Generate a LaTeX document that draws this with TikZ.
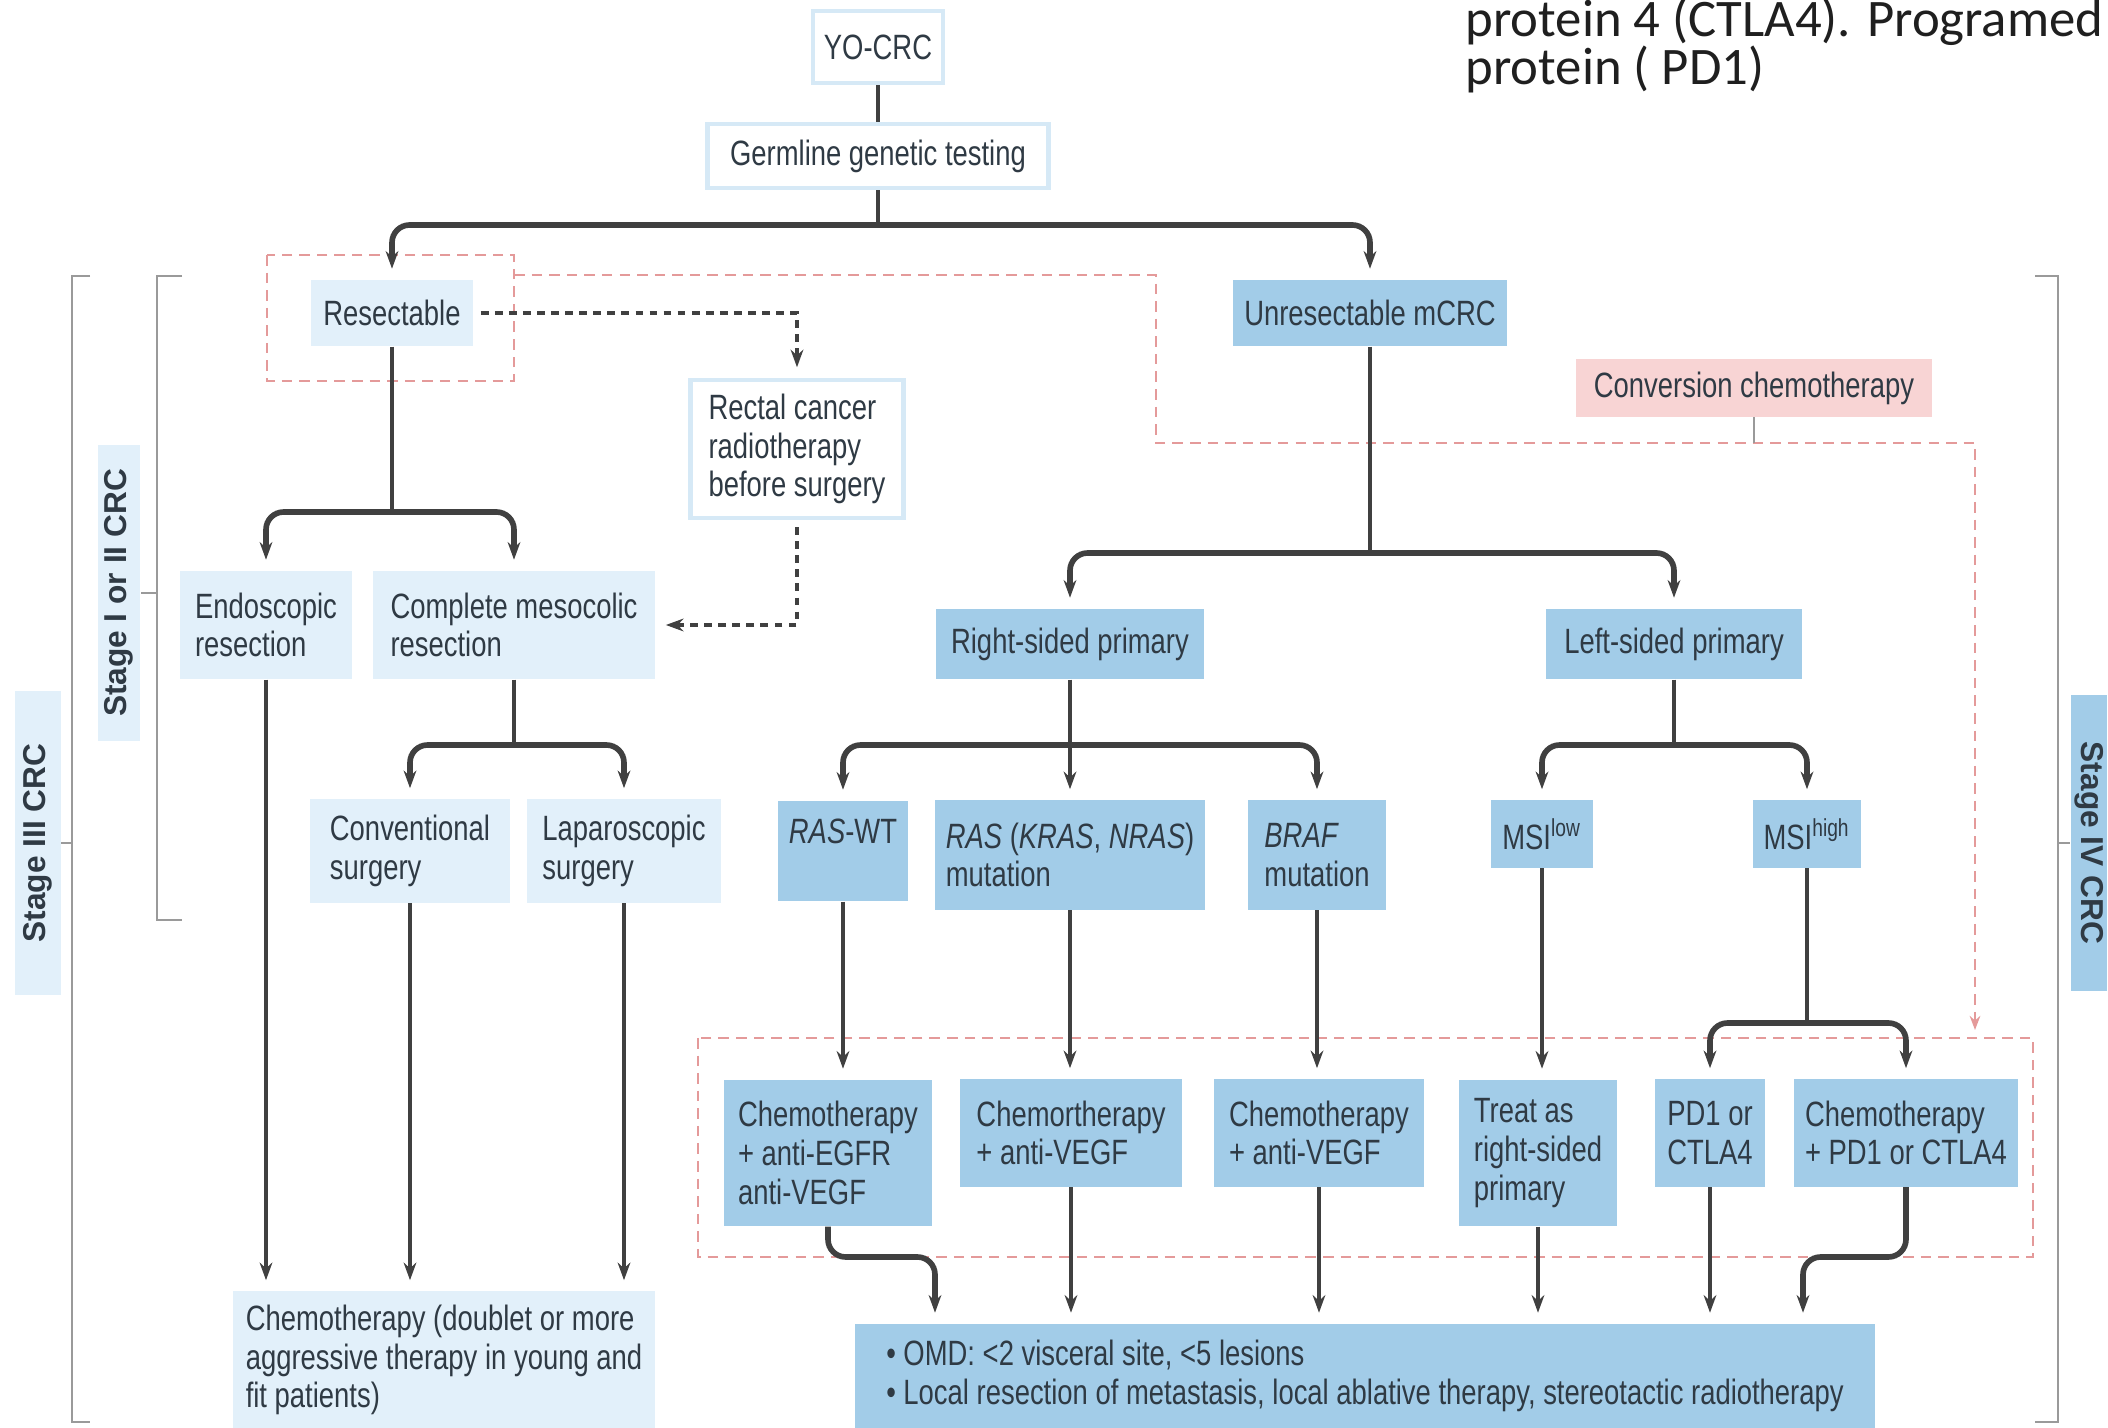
\documentclass[tikz,border=0pt]{standalone}
\usepackage{fontspec}
\setmainfont{Liberation Sans}[FakeStretch=0.78]
\newfontfamily\stagefont{Liberation Sans}
\newfontfamily\notefont{Carlito}
\usetikzlibrary{arrows.meta}

\definecolor{paleblue}{HTML}{E2F0FA}
\definecolor{midblue}{HTML}{A2CCE8}
\definecolor{pinkfill}{HTML}{F8D4D4}
\definecolor{lineblue}{HTML}{D6E9F6}
\definecolor{txt}{HTML}{2F3A44}
\definecolor{linkgray}{HTML}{404040}
\definecolor{redline}{HTML}{E49A9A}
\definecolor{brkgray}{HTML}{9A9A9A}

\begin{document}
\begin{tikzpicture}[x=0.01cm, y=-0.01cm,
    box/.style={font=\fontsize{10}{11}\selectfont, text=txt, align=left, inner xsep=0.11cm, inner ysep=0pt},
    pale/.style={box, fill=paleblue},
    mid/.style={box, fill=midblue},
    outl/.style={box, fill=white, draw=lineblue, line width=1.2pt},
    pinkbox/.style={box, fill=pinkfill},
    stagelbl/.style={font=\stagefont\bfseries\fontsize{9}{10}\selectfont, text=txt, inner sep=0pt, minimum height=0.45cm},
    note/.style={font=\notefont\fontsize{15}{18}\selectfont, text=black!88, inner sep=0pt, anchor=base west},
    link/.style={draw=linkgray, line width=0.9pt},
    arr/.style={link, -{Stealth[length=5pt,width=3.6pt]}, shorten >=3pt},
    fork/.style={arr, line width=1.6pt, rounded corners=5pt},
    dots/.style={draw=linkgray, line width=1.3pt, dash pattern=on 2.2pt off 1.8pt, -{Stealth[length=5pt,width=3.6pt]}, shorten >=3pt, shorten <=2pt},
    region/.style={draw=redline, line width=0.7pt, dash pattern=on 3pt off 2pt},
    brk/.style={draw=brkgray, line width=0.8pt}
]
\useasboundingbox (0,0) rectangle (2108,1428);

% note text in the top right corner
\node[note] (note1) at (1465,37) {protein 4 (CTLA4). Programed};
\node[note] (note2) at (1465,85) {protein ( PD1)};

% dashed regions
\draw[region] (267,255) rectangle (514,381);
\draw[region] (698,1038) rectangle (2033,1257);
\draw[region, -{Stealth[length=4pt,width=3pt]}] (514,275) -- (1156,275) -- (1156,443) -- (1975,443) -- (1975,1030);

% stage brackets
\draw[brk] (90,276) -- (72,276) -- (72,1422) -- (90,1422);
\draw[brk] (182,276) -- (157,276) -- (157,920) -- (182,920);
\draw[brk] (2035,276) -- (2058,276) -- (2058,1422) -- (2035,1422);

\node[stagelbl, fill=paleblue, rotate=90, minimum width=3.03cm] (s3) at (38,843) {Stage III CRC};
\node[stagelbl, fill=paleblue, rotate=90, minimum width=2.95cm, minimum height=0.42cm] (s12) at (119,593) {Stage I or II CRC};
\node[stagelbl, fill=midblue, rotate=-90, minimum width=2.96cm, minimum height=0.36cm] (s4) at (2089,843) {Stage IV CRC};

\coordinate (t3) at (72,843);
\coordinate (t12) at (157,593);
\coordinate (t4) at (2058,843);
\draw[brk] (t3) -- (s3);
\draw[brk] (t12) -- (s12);
\draw[brk] (t4) -- (s4);

% top
\node[outl, minimum width=1.17cm, minimum height=0.72cm] (yocrc) at (878,47) {YO-CRC};
\node[outl, minimum width=3.41cm, minimum height=0.64cm] (germ) at (878,156) {Germline genetic testing};

% second row
\node[pale, minimum width=1.62cm, minimum height=0.66cm] (resect) at (392,313) {Resectable};
\node[mid, minimum width=2.72cm, minimum height=0.66cm] (unres) at (1370,313) {Unresectable mCRC};
\node[pinkbox, minimum width=3.56cm, minimum height=0.57cm] (conv) at (1754,388) {Conversion chemotherapy};
\node[outl, minimum width=2.13cm, minimum height=1.38cm] (rectal) at (797,449) {Rectal cancer\\radiotherapy\\before surgery};

% resectable branch
\node[pale, minimum width=1.72cm, minimum height=1.08cm] (endo) at (266,625) {Endoscopic\\resection};
\node[pale, minimum width=2.81cm, minimum height=1.08cm] (cmr) at (514,625) {Complete mesocolic\\resection};
\node[pale, minimum width=1.99cm, minimum height=1.03cm] (convs) at (410,851) {Conventional\\surgery};
\node[pale, minimum width=1.94cm, minimum height=1.03cm] (lap) at (624,851) {Laparoscopic\\surgery};
\node[pale, minimum width=4.22cm, minimum height=1.37cm] (doub) at (444,1360) {Chemotherapy (doublet or more\\aggressive therapy in young and\\fit patients)};

% unresectable branch
\node[mid, minimum width=2.68cm, minimum height=0.70cm] (right) at (1070,644) {Right-sided primary};
\node[mid, minimum width=2.56cm, minimum height=0.70cm] (left) at (1674,644) {Left-sided primary};
\node[mid, minimum width=1.19cm, minimum height=1.00cm] (raswt) at (843,851) {\textit{RAS}-WT\\\mbox{}};
\node[mid, minimum width=2.48cm, minimum height=1.09cm] (rasmut) at (1070,855) {\textit{RAS} (\textit{KRAS}, \textit{NRAS})\\mutation};
\node[mid, minimum width=1.38cm, minimum height=1.09cm] (braf) at (1317,855) {\textit{BRAF}\\mutation};
\node[mid, minimum width=1.00cm, minimum height=0.67cm] (msil) at (1542,834) {MSI\textsuperscript{low}};
\node[mid, minimum width=1.07cm, minimum height=0.67cm] (msih) at (1807,834) {MSI\textsuperscript{high}};

\node[mid, minimum width=2.07cm, minimum height=1.46cm] (egfr) at (828,1153) {Chemotherapy\\+ anti-EGFR\\anti-VEGF};
\node[mid, minimum width=2.21cm, minimum height=1.07cm] (vegfa) at (1071,1133) {Chemortherapy\\+ anti-VEGF};
\node[mid, minimum width=2.10cm, minimum height=1.07cm] (vegfb) at (1319,1133) {Chemotherapy\\+ anti-VEGF};
\node[mid, minimum width=1.57cm, minimum height=1.46cm] (treat) at (1538,1153) {Treat as\\right-sided\\primary};
\node[mid, minimum width=1.09cm, minimum height=1.07cm] (pd) at (1710,1133) {PD1 or\\CTLA4};
\node[mid, minimum width=2.14cm, minimum height=1.07cm] (cpd) at (1906,1133) {Chemotherapy\\+ PD1 or CTLA4};
\node[mid, minimum width=10.19cm, minimum height=1.04cm] (omd) at (1365,1376) {\textbullet{} OMD: \textless 2 visceral site, \textless 5 lesions\\\textbullet{} Local resection of metastasis, local ablative therapy, stereotactic radiotherapy};

% junctions
\coordinate (j0) at (878,225);
\coordinate (j1) at (392,512);
\coordinate (j2) at (514,745);
\coordinate (j3) at (1370,553);
\coordinate (j4) at (1070,745);
\coordinate (j5) at (1674,745);
\coordinate (j6) at (1807,1023);
\coordinate (k1) at (935,1257);
\coordinate (k2) at (1803,1257);
\coordinate (c1) at (1754,443);

% connectors
\draw[link] (yocrc) -- (germ);
\draw[link] (germ) -- (j0);
\draw[fork] (j0) -| (resect);
\draw[fork] (j0) -| (unres);

\draw[dots] (resect) -| (rectal);
\draw[dots] (rectal) |- (cmr);
\draw[link, line width=0.6pt, draw=brkgray] (conv) -- (c1);

\draw[link] (resect) -- (j1);
\draw[fork] (j1) -| (endo);
\draw[fork] (j1) -| (cmr);
\draw[link] (cmr) -- (j2);
\draw[fork] (j2) -| (convs);
\draw[fork] (j2) -| (lap);
\draw[arr] (endo) -- (endo |- doub.north);
\draw[arr] (convs) -- (convs |- doub.north);
\draw[arr] (lap) -- (lap |- doub.north);

\draw[link] (unres) -- (j3);
\draw[fork] (j3) -| (right);
\draw[fork] (j3) -| (left);
\draw[link] (right) -- (j4);
\draw[fork] (j4) -| (raswt);
\draw[fork] (j4) -| (braf);
\draw[arr] (j4) -- (rasmut);
\draw[link] (left) -- (j5);
\draw[fork] (j5) -| (msil);
\draw[fork] (j5) -| (msih);

\draw[arr] (raswt) -- (raswt |- egfr.north);
\draw[arr] (rasmut) -- (rasmut |- vegfa.north);
\draw[arr] (braf) -- (braf |- vegfb.north);
\draw[arr] (msil) -- (msil |- treat.north);
\draw[link] (msih) -- (j6);
\draw[fork] (j6) -| (pd);
\draw[fork] (j6) -| (cpd);

\draw[fork] (egfr) |- (k1) -- (k1 |- omd.north);
\draw[arr] (vegfa) -- (vegfa |- omd.north);
\draw[arr] (vegfb) -- (vegfb |- omd.north);
\draw[arr] (treat) -- (treat |- omd.north);
\draw[arr] (pd) -- (pd |- omd.north);
\draw[fork] (cpd) |- (k2) -- (k2 |- omd.north);
\end{tikzpicture}
\end{document}
